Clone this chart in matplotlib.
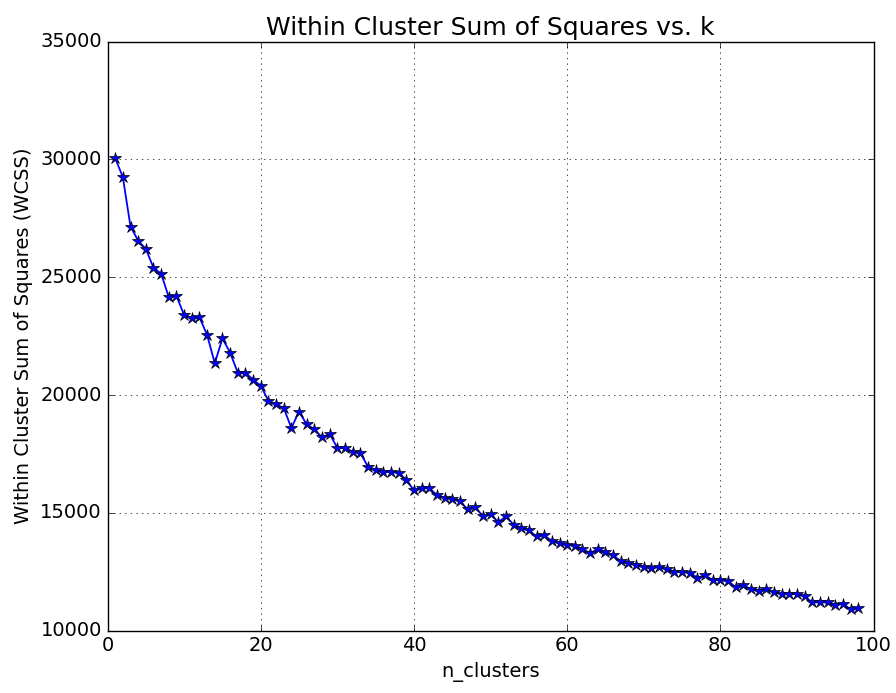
import matplotlib
matplotlib.use("Agg")
import matplotlib.pyplot as plt

plt.style.use("classic")

# number of clusters and the WCSS
k_values = list(range(1, 99))
wcss = [
    30050, 29250, 27150, 26550, 26200, 25400, 25150, 24150, 24200, 23400,
    23250, 23300, 22550, 21350, 22400, 21800, 20950, 20950, 20650, 20400,
    19750, 19600, 19450, 18600, 19300, 18750, 18550, 18200, 18350, 17750,
    17750, 17600, 17550, 16950, 16800, 16750, 16750, 16700, 16400, 15950,
    16050, 16050, 15750, 15650, 15600, 15500, 15150, 15250, 14850, 14950,
    14600, 14850, 14500, 14350, 14250, 14000, 14050, 13800, 13700, 13650,
    13600, 13450, 13300, 13450, 13350, 13200, 12950, 12850, 12800, 12700,
    12650, 12700, 12600, 12500, 12500, 12450, 12250, 12350, 12150, 12150,
    12100, 11850, 11950, 11750, 11700, 11750, 11650, 11550, 11550, 11550,
    11450, 11200, 11200, 11200, 11100, 11150, 10900, 10950,
]

fig = plt.figure(figsize=(8.96, 6.93), dpi=100, facecolor="white")
ax = fig.add_subplot(111)
ax.plot(k_values, wcss, color="blue", linewidth=1.3, marker="*",
        markersize=9, markerfacecolor="blue", markeredgecolor="black")
ax.set_title("Within Cluster Sum of Squares vs. k", fontsize=18)
ax.set_xlabel("n_clusters", fontsize=14)
ax.set_ylabel("Within Cluster Sum of Squares (WCSS)", fontsize=14)
ax.set_xlim(0, 100)
ax.set_ylim(10000, 35000)
ax.tick_params(labelsize=14)
ax.grid(True)

fig.subplots_adjust(left=0.12, right=0.975, top=0.94, bottom=0.09)
fig.savefig("out.png", dpi=100, facecolor="white")
